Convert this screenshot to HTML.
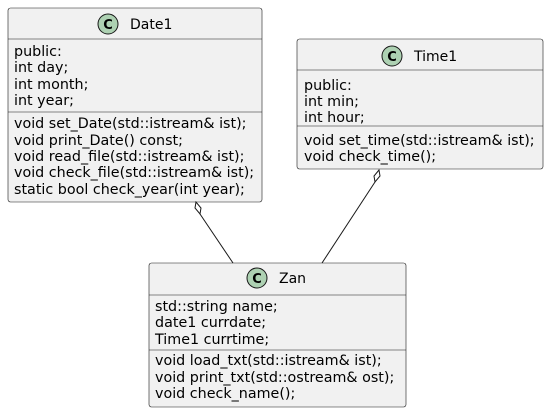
<!DOCTYPE html>
<html><head><style>body{margin:0;background:#fff}svg text{font-family:"DejaVu Sans","Liberation Sans",sans-serif;font-size:14.3px;fill:#000}svg text.t{font-size:14px}</style></head>
<body>
<svg width="549" height="413" viewBox="0 0 549 413">
<g fill="#f1f1f1" stroke="#181818" stroke-width="0.6">
<rect x="8" y="8" width="254" height="194" rx="2.5"/>
<rect x="297" y="39" width="246" height="130" rx="2.5"/>
<rect x="149" y="263" width="257" height="144" rx="2.5"/>
</g>
<g stroke="#181818" stroke-width="0.6">
<line x1="8" y1="39" x2="262" y2="39"/><line x1="8" y1="112" x2="262" y2="112"/>
<line x1="297" y1="70" x2="543" y2="70"/><line x1="297" y1="126" x2="543" y2="126"/>
<line x1="149" y1="295" x2="406" y2="295"/><line x1="149" y1="350" x2="406" y2="350"/>
</g>
<g fill="#add1b2" stroke="#181818" stroke-width="1">
<circle cx="108" cy="24" r="10"/><circle cx="392" cy="56" r="10"/><circle cx="257" cy="278" r="10"/>
</g>
<g text-anchor="middle">
<text class="t" x="108" y="29" style="font-weight:bold;font-size:13px">C</text><text class="t" x="392" y="61" style="font-weight:bold;font-size:13px">C</text><text class="t" x="257" y="283" style="font-weight:bold;font-size:13px">C</text>
</g>
<text class="t" x="130" y="29">Date1</text>
<text class="t" x="414" y="61">Time1</text>
<text class="t" x="279" y="283">Zan</text>
<text x="14" y="56">public:</text><text x="14" y="72">int day;</text><text x="14" y="89">int month;</text><text x="14" y="105">int year;</text>
<text x="14" y="128">void set_Date(std::istream&amp; ist);</text>
<text x="14" y="145">void print_Date() const;</text>
<text x="14" y="161">void read_file(std::istream&amp; ist);</text>
<text x="14" y="177">void check_file(std::istream&amp; ist);</text>
<text x="14" y="194">static bool check_year(int year);</text>
<text x="304" y="90">public:</text><text x="304" y="106">int min;</text><text x="304" y="122">int hour;</text>
<text x="304" y="145">void set_time(std::istream&amp; ist);</text>
<text x="304" y="161">void check_time();</text>
<text x="155" y="311">std::string name;</text><text x="155" y="327">date1 currdate;</text><text x="155" y="344">Time1 currtime;</text>
<text x="155" y="365">void load_txt(std::istream&amp; ist);</text>
<text x="155" y="382">void print_txt(std::ostream&amp; ost);</text>
<text x="155" y="398">void check_name();</text>
<g stroke="#181818" stroke-width="1" fill="none">
<line x1="200" y1="214" x2="233" y2="263"/>
<line x1="375" y1="182" x2="322" y2="263"/>
</g>
<g stroke="#181818" stroke-width="1" fill="#fff">
<polygon points="196,202 195,208 200,214 201,208"/>
<polygon points="379,170 374,176 375,182 380,176"/>
</g>
</svg>
</body></html>
